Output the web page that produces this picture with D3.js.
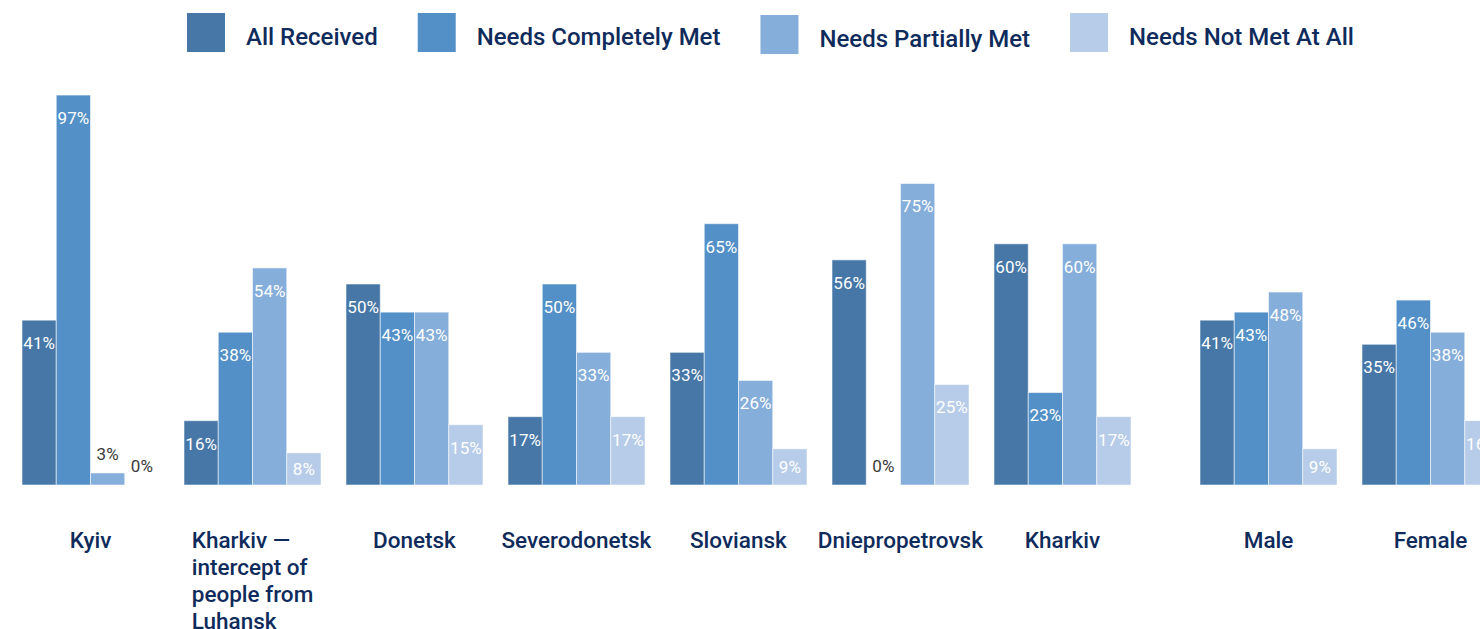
<!DOCTYPE html>
<html><head><meta charset="utf-8">
<script src="https://cdn.jsdelivr.net/npm/d3@7"></script>
<style>
html,body{margin:0;padding:0;background:#fff;overflow:hidden}
svg{display:block}
text{font-family:Roboto,"Noto Sans",sans-serif}
</style></head>
<body>
<svg id="chart" width="1480" height="629"></svg>
<script>
const categories = ["Kyiv","Kharkiv — intercept of people from Luhansk","Donetsk","Severodonetsk","Sloviansk","Dniepropetrovsk","Kharkiv","Male","Female"];
const categoryLines = [["Kyiv"],["Kharkiv —","intercept of","people from","Luhansk"],["Donetsk"],["Severodonetsk"],["Sloviansk"],["Dniepropetrovsk"],["Kharkiv"],["Male"],["Female"]];
const sections = ["region","region","region","region","region","region","region","gender","gender"];
const seriesNames = ["All Received","Needs Completely Met","Needs Partially Met","Needs Not Met At All"];
const allReceived = [41,16,50,17,33,56,60,41,35];
const needsCompletelyMet = [97,38,43,50,65,0,23,43,46];
const needsPartiallyMet = [3,54,43,33,26,75,60,48,38];
const needsNotMetAtAll = [0,8,15,17,9,25,17,9,16];
const seriesValues = [allReceived,needsCompletelyMet,needsPartiallyMet,needsNotMetAtAll];
const colors = ["#4677a7","#5390c7","#85aedb","#b7cce8"];

const svg = d3.select("#chart");
const baseY = 485;
const y = d3.scaleLinear().domain([0,100]).range([baseY, 83]);
const x0 = d3.scaleBand().domain(categories).range([22, 1455]).paddingInner(25/162).paddingOuter(0);
const sectionOffset = d3.scaleOrdinal().domain(["region","gender"]).range([0,44]);
const gx = (c,i) => x0(c) + sectionOffset(sections[i]);
const x1 = d3.scaleBand().domain(seriesNames).range([0, x0.bandwidth()]);

const rows = [];
categories.forEach((c,i)=>{
  seriesNames.forEach((s,j)=>{
    rows.push({cat:c, ci:i, s, sj:j, v:seriesValues[j][i]});
  });
});

const g = svg.append("g");
g.selectAll("rect.bar").data(rows).join("rect")
  .attr("class","bar")
  .attr("x", d=> gx(d.cat,d.ci) + x1(d.s))
  .attr("y", d=> y(d.v))
  .attr("width", x1.bandwidth())
  .attr("height", d=> baseY - y(d.v))
  .attr("fill", d=> colors[d.sj])
  .attr("stroke", "rgba(255,255,255,0.55)")
  .attr("stroke-width", 1);

g.selectAll("text.val").data(rows).join("text")
  .attr("class","val")
  .attr("x", d=> gx(d.cat,d.ci) + x1(d.s) + x1.bandwidth()/2)
  .attr("y", d=> {
    const h = baseY - y(d.v);
    if (h < 20) return y(d.v) - 19;
    if (h < 48) return y(d.v) + h/2;
    return y(d.v) + 23;
  })
  .attr("dy","0.35em")
  .attr("text-anchor","middle")
  .attr("font-size", 17)
  .attr("fill", d=> (baseY - y(d.v)) < 20 ? "#3a3a3a" : "#ffffff")
  .text(d=> d.v + "%");

// category labels
const lab = svg.append("g");
categories.forEach((c,i)=>{
  const cx = gx(c,i) + x0.bandwidth()/2;
  const lines = categoryLines[i];
  const t = lab.append("text")
    .attr("font-size", 22.5).attr("font-weight", 500).attr("fill","#0e2b5c");
  lines.forEach((ln,k)=>{
    t.append("tspan").attr("x",0).attr("y", 548 + k*27).text(ln);
  });
  const w = t.node().getBBox().width;
  t.attr("transform", `translate(${cx - w/2},0)`);
});

// legend
const leg = svg.append("g");
let lx = 187;
const swY = [13,13,15,13];
seriesNames.forEach((s,j)=>{
  leg.append("rect").attr("x",lx).attr("y",swY[j]).attr("width",38).attr("height",39).attr("fill",colors[j]);
  const t = leg.append("text").attr("x", lx+59).attr("y", 37 + (j===2?2:0)).attr("dy","0.35em")
    .attr("font-size",24).attr("font-weight",500).attr("fill","#0e2b5c").text(s);
  lx += 59 + t.node().getComputedTextLength() + 40;
});
</script>
</body></html>
